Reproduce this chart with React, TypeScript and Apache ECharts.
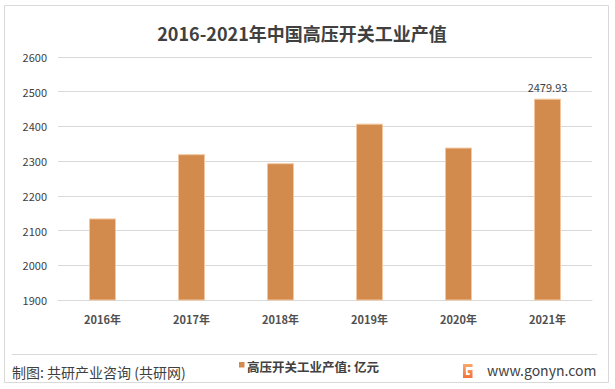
import React, { useEffect, useRef } from "react";
import * as echarts from "echarts";

const categories = ["2016年", "2017年", "2018年", "2019年", "2020年", "2021年"];
const values = [2135, 2320, 2294, 2408, 2339, 2479.93];
const seriesName = "高压开关工业产值: 亿元";
const titleText = "2016-2021年中国高压开关工业产值";
const sourceText = "制图: 共研产业咨询 (共研网)";
const siteText = "www.gonyn.com";

const FONT = "'Noto Sans CJK SC', 'Noto Sans', sans-serif";

echarts.graphic.registerShape(
  "gonynLogo",
  echarts.graphic.extendPath(
    "M0 0 L10 0 L10 3 L3 3 L3 11 L7 11 L7 9 L5 9 L5 6 L10 6 L10 14 L0 14 Z",
    {}
  )
);

export default function App() {
  const ref = useRef<HTMLDivElement>(null);
  useEffect(() => {
    if (!ref.current) return;
    const chart = echarts.init(ref.current, undefined, { renderer: "svg" });
    const lastIdx = values.length - 1;
    chart.setOption({
      animation: false,
      backgroundColor: "#ffffff",
      textStyle: { fontFamily: FONT },
      grid: { left: 58, right: 23, top: 57, bottom: 89 },
      xAxis: {
        type: "category",
        data: categories,
        axisLine: { show: true, lineStyle: { color: "#d9d9d9", width: 1 } },
        axisTick: { show: false },
        axisLabel: {
          color: "#505050",
          fontSize: 11,
          fontWeight: "bold",
          margin: 13,
          fontFamily: FONT,
        },
      },
      yAxis: {
        type: "value",
        min: 1900,
        max: 2600,
        interval: 100,
        axisLine: { show: false },
        axisTick: { show: false },
        splitLine: { lineStyle: { color: "#d9d9d9", width: 1 } },
        axisLabel: {
          color: "#404040",
          fontSize: 11,
          margin: 11,
          fontFamily: FONT,
          formatter: (v: number) => String(v),
        },
      },
      series: [
        {
          name: seriesName,
          type: "bar",
          barWidth: 27,
          itemStyle: { color: "#D38B4D", borderColor: "#F2C7A0", borderWidth: 1 },
          data: values.map((v, i) =>
            i === lastIdx
              ? {
                  value: v,
                  label: {
                    show: true,
                    position: "top",
                    distance: 6,
                    color: "#404040",
                    fontSize: 11,
                    fontFamily: FONT,
                    formatter: (p: any) => p.value.toFixed(2),
                  },
                }
              : v
          ),
        },
      ],
      graphic: [
        {
          type: "rect",
          shape: { x: 4.5, y: 5.5, width: 604, height: 377 },
          style: { fill: "none", stroke: "#d9d9d9", lineWidth: 1 },
          silent: true,
        },
        {
          type: "text",
          x: 302,
          y: 33,
          style: {
            text: titleText,
            fill: "#404040",
            font: `bold 18px ${FONT}`,
            textAlign: "center",
            textVerticalAlign: "middle",
          },
        },
        {
          type: "line",
          shape: { x1: 12, y1: 354.5, x2: 597, y2: 354.5 },
          style: { stroke: "#d9d9d9", lineWidth: 1 },
        },
        {
          type: "text",
          x: 12,
          y: 372,
          style: {
            text: sourceText,
            fill: "#404040",
            font: `14px ${FONT}`,
            textAlign: "left",
            textVerticalAlign: "middle",
          },
        },
        {
          type: "rect",
          shape: { x: 239, y: 362, width: 5.5, height: 5.5 },
          style: { fill: "#D38B4D" },
        },
        {
          type: "text",
          x: 247,
          y: 366,
          style: {
            text: seriesName,
            fill: "#404040",
            font: `bold 12.5px ${FONT}`,
            textAlign: "left",
            textVerticalAlign: "middle",
          },
        },
        {
          type: "gonynLogo",
          x: 463,
          y: 364,
          scaleX: 0.95,
          scaleY: 1,
          style: {
            fill: new echarts.graphic.LinearGradient(0, 0, 0, 1, [
              { offset: 0, color: "#F9A86A" },
              { offset: 1, color: "#F2713C" },
            ]),
          },
        },
        {
          type: "text",
          x: 487,
          y: 370,
          style: {
            text: siteText,
            fill: "#404040",
            font: `14px ${FONT}`,
            textAlign: "left",
            textVerticalAlign: "middle",
          },
        },
      ],
    });
    return () => chart.dispose();
  }, []);
  return (
    <div
      ref={ref}
      style={{ position: "fixed", left: 0, top: 0, width: 615, height: 389 }}
    />
  );
}
